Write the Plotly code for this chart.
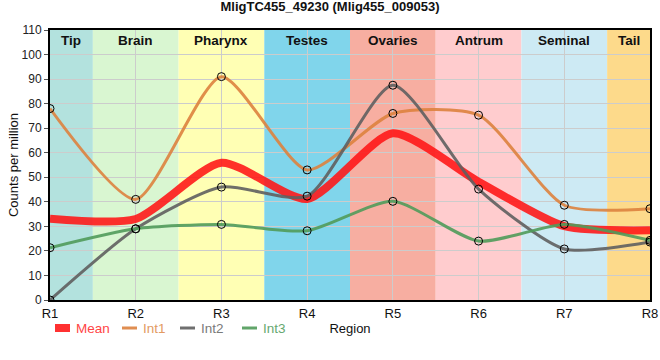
import plotly.graph_objects as go

regions = ["R1", "R2", "R3", "R4", "R5", "R6", "R7", "R8"]
tissues = ["Tip", "Brain", "Pharynx", "Testes", "Ovaries", "Antrum", "Seminal", "Tail"]
tissue_colors = ["#b3e2de", "#d9f6d1", "#ffffb4", "#80d5eb", "#f7aea1", "#ffccce", "#cdeaf4", "#fdda8b"]

int1 = [78, 41, 91, 53, 76, 75.3, 38.6, 37.2]
int2 = [0, 29, 46, 42.3, 87.5, 45.2, 20.8, 23.6]
int3 = [21.3, 29, 30.8, 28.2, 40.2, 24, 30.8, 24.3]
mean = [(a + b + c) / 3 for a, b, c in zip(int1, int2, int3)]

series_names = ["Mean", "Int1", "Int2", "Int3"]
line_colors = ["rgba(255,20,20,0.88)", "rgba(221,130,62,0.9)", "rgba(95,95,95,0.9)", "rgba(80,155,90,0.9)"]
text_colors = ["#ff4545", "#e39a62", "#7a7a7a", "#66a870"]

xs = list(range(len(regions)))
font = "Liberation Sans, Arial, sans-serif"

# plot area in pixels (for paper-coordinate legend placement)
L, R, T, B, W, H = 50, 10, 30, 60, 660, 360
pw, ph = W - L - R, H - T - B

def px2paper(px, py):
    return (px - L) / pw, (H - B - py) / ph

fig = go.Figure()

all_vals = [mean, int1, int2, int3]
for k, (name, vals) in enumerate(zip(series_names, all_vals)):
    fig.add_trace(go.Scatter(
        x=xs, y=vals, mode="lines", name=name, showlegend=False,
        line=dict(color=line_colors[k], width=8 if k == 0 else 3, shape="spline", smoothing=0.65),
    ))
for vals in all_vals[1:]:
    fig.add_trace(go.Scatter(
        x=xs, y=vals, mode="markers", showlegend=False, hoverinfo="skip",
        marker=dict(symbol="circle-open", color="black", size=8, line=dict(width=1)),
    ))

nmax = len(regions) - 1
for i, (t, c) in enumerate(zip(tissues, tissue_colors)):
    x0 = max(i - 0.5, 0)
    x1 = min(i + 0.5, nmax)
    fig.add_shape(type="rect", xref="x", yref="y", x0=x0, x1=x1, y0=0, y1=110,
                  fillcolor=c, line=dict(width=0), layer="below")
    fig.add_annotation(x=(x0 + x1) / 2, y=105.8, xref="x", yref="y", text=f"<b>{t}</b>",
                       showarrow=False, font=dict(family=font, size=13.5, color="#111"))

# legend drawn manually (compact, coloured text like the reference)
leg_sym = [(55, 70), (122, 137), (180, 195), (242, 257)]
leg_y = 328
for k, name in enumerate(series_names):
    sx0, sx1 = leg_sym[k]
    ax0, ay = px2paper(sx0, leg_y)
    ax1, _ = px2paper(sx1, leg_y)
    fig.add_shape(type="line", xref="paper", yref="paper", x0=ax0, x1=ax1, y0=ay, y1=ay,
                  line=dict(color=line_colors[k], width=8 if k == 0 else 3))
    tx, _ = px2paper(sx1 + 4, leg_y)
    fig.add_annotation(x=tx, y=ay, xref="paper", yref="paper", text=name, showarrow=False,
                       xanchor="left", yanchor="middle",
                       font=dict(family=font, size=13.5, color=text_colors[k]))

fig.update_layout(
    width=W, height=H,
    margin=dict(l=L, r=R, t=T, b=B, autoexpand=False),
    paper_bgcolor="white", plot_bgcolor="white",
    title=dict(text="<b>MligTC455_49230 (Mlig455_009053)</b>", x=0.5, xanchor="center",
               y=0.995, yanchor="top", font=dict(family=font, size=13, color="#111")),
    font=dict(family=font, size=12, color="#222"),
    showlegend=False,
)
fig.update_xaxes(
    range=[0, nmax], tickvals=xs, ticktext=regions, showgrid=True, gridcolor="#cccccc",
    gridwidth=1, showline=True, linecolor="black", linewidth=2, mirror=True,
    ticks="", tickfont=dict(family=font, size=13, color="#111"), zeroline=False,
    automargin=False,
    title=dict(text="Region", standoff=4, font=dict(family=font, size=13, color="#111")),
)
fig.update_yaxes(
    range=[0, 110], tickvals=list(range(0, 111, 10)), showgrid=True, gridcolor="#cccccc",
    gridwidth=1, showline=True, linecolor="black", linewidth=2, mirror=True,
    ticks="outside", ticklen=4, tickcolor="#555", zeroline=False, automargin=False,
    tickfont=dict(family=font, size=12, color="#222"),
    title=dict(text="Counts per million", standoff=0, font=dict(family=font, size=13, color="#111")),
)

fig.write_html("out.html", config={"displayModeBar": False},
               post_script="document.body.style.margin='0';")
